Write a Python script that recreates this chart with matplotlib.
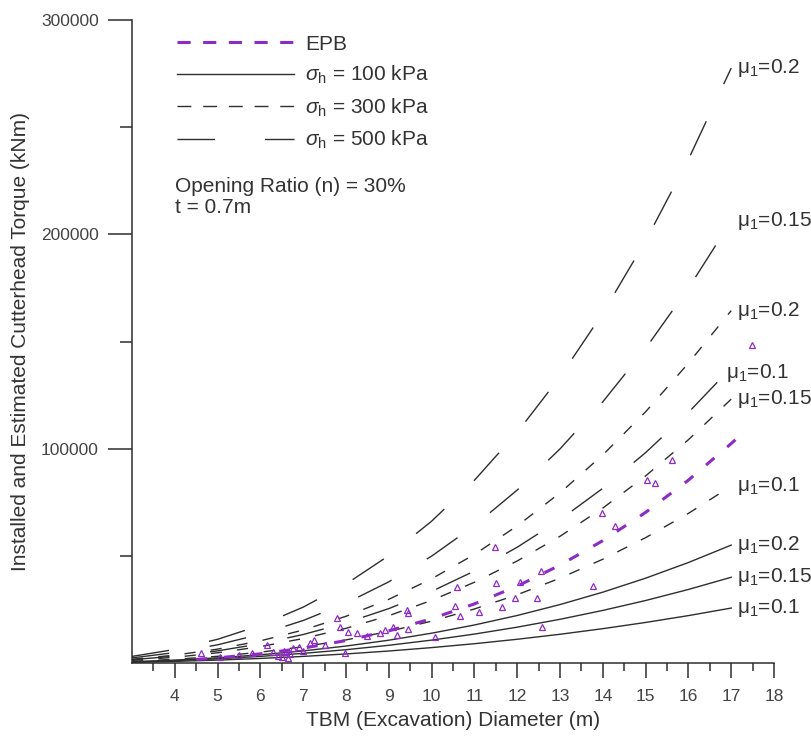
import matplotlib
matplotlib.use('Agg')
import matplotlib.pyplot as plt
from matplotlib.lines import Line2D

plt.rcParams['font.family'] = ['Liberation Sans', 'DejaVu Sans']
plt.rcParams['mathtext.fontset'] = 'custom'
plt.rcParams['mathtext.rm'] = 'Liberation Sans'
plt.rcParams['mathtext.it'] = 'Liberation Sans:italic'

# diameters (m) for the estimated torque curves
diam = [3, 4, 5, 6, 7, 8, 9, 10, 11, 12, 13, 14, 15, 16, 17]

# sigma_h = 500 kPa
t500_02 = [3300, 6540, 11280, 17770, 26270, 37030, 50300, 66340, 85410, 107750, 133630, 163300, 197010, 235020, 277580]
t500_015 = [2590, 5090, 8710, 13640, 20050, 28140, 38080, 50060, 64260, 80860, 100040, 122000, 146900, 174940, 206290]
t500_01 = [1750, 3440, 5880, 9200, 13510, 18930, 25590, 33610, 43110, 54200, 67020, 81680, 98300, 117010, 137920]
# sigma_h = 300 kPa
t300_02 = [1960, 3880, 6700, 10560, 15610, 22010, 29920, 39470, 50830, 64140, 79560, 97240, 117340, 140000, 164500]
t300_015 = [1460, 2890, 4990, 7870, 11630, 16400, 22290, 29410, 37870, 47790, 59290, 72460, 87440, 104320, 123230]
t300_01 = [980, 1940, 3350, 5280, 7800, 11000, 14960, 19730, 25410, 32060, 39770, 48610, 58660, 69990, 82670]
# sigma_h = 100 kPa
t100_02 = [820, 1580, 2640, 4060, 5870, 8130, 10860, 14120, 17950, 22380, 27470, 33250, 39770, 47070, 55190]
t100_015 = [710, 1330, 2190, 3310, 4710, 6430, 8480, 10900, 13710, 16930, 20600, 24740, 29360, 34510, 40200]
t100_01 = [530, 970, 1580, 2350, 3300, 4450, 5820, 7400, 9220, 11290, 13620, 16230, 19130, 22320, 25840]

# EPB fitted curve
epb_d = [4.5, 5, 6, 7, 8, 9, 10, 11, 12, 13, 14, 15, 16, 17, 17.3]
epb_t = [1900, 2610, 4510, 7160, 10690, 15210, 20870, 27780, 36060, 45850, 57270, 70440, 85480, 102530, 108060]

# installed torque of EPB machines (triangles)
inst_d = [4.6, 5.05, 5.5, 5.8, 6.15, 6.3, 6.4, 6.5, 6.55, 6.6, 6.65, 6.7, 6.75, 6.9, 7.0, 7.16, 7.25, 7.5,
          7.8, 7.85, 7.98, 8.05, 8.25, 8.5, 8.8, 8.9, 9.1, 9.2, 9.42, 9.45, 9.45, 10.08, 10.55, 10.6, 10.66,
          11.1, 11.48, 11.5, 11.65, 11.95, 12.07, 12.46, 12.55, 12.58, 13.77, 13.98, 14.28, 15.03, 15.22,
          15.62, 17.49]
inst_t = [4900, 3000, 4000, 4900, 8600, 5500, 3500, 3000, 6000, 5400, 2500, 4200, 7000, 7700, 5800, 9600,
          11000, 8500, 21200, 17000, 4900, 14700, 14200, 13000, 14200, 15500, 17000, 13500, 25000, 23500,
          16000, 12400, 26800, 35700, 22100, 24000, 54300, 37500, 26300, 30500, 38000, 30500, 43100, 17000,
          36100, 70200, 64100, 85500, 84200, 94700, 148500]

dark = '#2e2e2e'
purple = '#8e2bc4'

fig = plt.figure(figsize=(8.11, 7.40), dpi=100)
ax = fig.add_axes([0.1628, 0.1034, 0.7916, 0.8696])

short_dash = (8, 11)
long_dash = (27, 29.5)

curves = [
    (t500_02, long_dash, r'μ$_1$=0.2', 0, 0),
    (t500_015, long_dash, r'μ$_1$=0.15', 0, 0),
    (t500_01, long_dash, r'μ$_1$=0.1', -8, -4),
    (t300_02, short_dash, r'μ$_1$=0.2', 0, 0),
    (t300_015, short_dash, r'μ$_1$=0.15', 0, 0),
    (t300_01, short_dash, r'μ$_1$=0.1', 0, 0),
    (t100_02, None, r'μ$_1$=0.2', 0, 0),
    (t100_015, None, r'μ$_1$=0.15', 0, 0),
    (t100_01, None, r'μ$_1$=0.1', 0, 0),
]
for vals, dashes, lab, dx, dy in curves:
    line, = ax.plot(diam, vals, color=dark, lw=1.0)
    if dashes is not None:
        line.set_dashes(dashes)
    ax.annotate(lab, xy=(diam[-1], vals[-1]), xytext=(4 + dx, dy), textcoords='offset points',
                va='center', ha='left', fontsize=15, color='#333333', annotation_clip=False)

epb_line, = ax.plot(epb_d, epb_t, color=purple, lw=2.2)
epb_line.set_dashes((3.6, 5.5))
ax.plot(inst_d, inst_t, linestyle='none', marker='^', markersize=5, markerfacecolor='none',
        markeredgecolor=purple, markeredgewidth=0.9)

ax.set_xlim(3, 18)
ax.set_ylim(0, 300000)
ax.set_xticks(range(4, 19))
ax.set_xticks([x + 0.5 for x in range(3, 18)], minor=True)
ax.set_yticks([100000, 200000, 300000])
ax.set_yticks([50000, 150000, 250000], minor=True)
ax.set_yticklabels(['100000', '200000', '300000'])

for side in ['top', 'right']:
    ax.spines[side].set_visible(False)
for side in ['left', 'bottom']:
    ax.spines[side].set_color(dark)
    ax.spines[side].set_linewidth(1.1)

ax.tick_params(axis='x', which='major', length=10.5, width=1.1, color=dark, labelsize=12.5,
               labelcolor='#444444', pad=8)
ax.tick_params(axis='x', which='minor', length=5.5, width=1.1, color=dark)
ax.tick_params(axis='y', which='major', length=17, width=1.1, color=dark, labelsize=12.5,
               labelcolor='#444444', pad=7)
ax.tick_params(axis='y', which='minor', length=9, width=1.1, color=dark)

ax.set_xlabel('TBM (Excavation) Diameter (m)', fontsize=15, color='#333333', labelpad=5)
ax.set_ylabel('Installed and Estimated Cutterhead Torque (kNm)', fontsize=15, color='#333333', labelpad=8)

handles = [
    Line2D([], [], color=purple, lw=2.2, dashes=(4.3, 4.1)),
    Line2D([], [], color=dark, lw=1.0),
    Line2D([], [], color=dark, lw=1.0, dashes=(10, 8.5)),
    Line2D([], [], color=dark, lw=1.0, dashes=(27, 36)),
]
labels = ['EPB', r'$\sigma_\mathrm{h}$ = 100 kPa', r'$\sigma_\mathrm{h}$ = 300 kPa', r'$\sigma_\mathrm{h}$ = 500 kPa']
ax.legend(handles, labels, loc='upper left', bbox_to_anchor=(0.07, 0.977), frameon=False,
          fontsize=15, handlelength=5.6, handletextpad=0.55, labelspacing=0.49,
          borderpad=0, borderaxespad=0, labelcolor='#333333')

ax.text(0.067, 0.756, 'Opening Ratio (n) = 30%\nt = 0.7m', transform=ax.transAxes,
        ha='left', va='top', fontsize=15, color='#333333', linespacing=1.15)

fig.savefig('out.png', dpi=100)
